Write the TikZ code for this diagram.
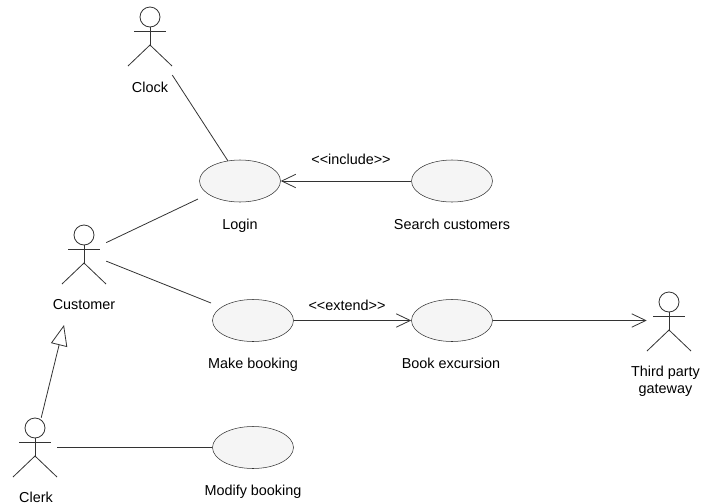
\documentclass[tikz,border=0pt]{standalone}
\usepackage{fontspec}
\setmainfont{Liberation Sans}
\usetikzlibrary{arrows.meta,shapes.geometric}
\definecolor{linegray}{HTML}{333333}
\definecolor{casegray}{HTML}{F5F5F5}
\tikzset{
    actorbox/.style={minimum width=33pt,minimum height=52.5pt,inner sep=0pt},
    usecase/.style={ellipse,draw=linegray,fill=casegray,minimum width=60.75pt,minimum height=31.5pt,inner sep=0pt},
    caption/.style={font=\fontsize{10.8}{12.75}\selectfont,text=black,inner sep=0pt,align=center},
    link/.style={draw=linegray,line width=0.6pt},
    opentip/.style={-{Straight Barb[length=10.5pt,width=10pt,line width=0.6pt]}},
    gentip/.style={-{Triangle[open,fill=white,length=15.5pt,width=12.5pt,line width=0.6pt]}},
    actorman/.pic={
        \draw[link] (0,-25) circle(10);
        \draw[link] (0,-15) -- (0,3);
        \draw[link] (-16,-11) -- (16,-11);
        \draw[link] (-22,24) -- (0,3) -- (22,24);
    }
}
\begin{document}
\begin{tikzpicture}[x=0.75pt,y=-0.75pt]
    \useasboundingbox (0,0) rectangle (701,504);
    \node[actorbox] (clock) at (150,42) {};
    \node[actorbox] (customer) at (84,260) {};
    \node[actorbox] (clerk) at (35,453) {};
    \node[actorbox] (gateway) at (669,327) {};
    \pic at (clock) {actorman};
    \pic at (customer) {actorman};
    \pic at (clerk) {actorman};
    \pic at (gateway) {actorman};
    \node[usecase] (login) at (240,181) {};
    \node[usecase] (search) at (452,181) {};
    \node[usecase] (make) at (253,320.5) {};
    \node[usecase] (excursion) at (452,320.5) {};
    \node[usecase] (modify) at (253,447.5) {};
    \node[caption] (clocklabel) at (150,87) {Clock};
    \node[caption] (customerlabel) at (84,305) {Customer};
    \node[caption] (clerklabel) at (36,497) {Clerk};
    \node[caption] (gatewaylabel) at (665.5,381) {Third party\\gateway};
    \node[caption] (loginlabel) at (240,225.5) {Login};
    \node[caption] (searchlabel) at (452,224.5) {Search customers};
    \node[caption] (makelabel) at (253,365) {Make booking};
    \node[caption] (excursionlabel) at (451,363) {Book excursion};
    \node[caption] (modifylabel) at (253,491.5) {Modify booking};
    \node[caption] (includelabel) at (351,159) {<{}<include>{}>};
    \node[caption] (extendlabel) at (347,305) {<{}<extend>{}>};
    \draw[link] (clock.-56) -- (login.121);
    \draw[link] (customer.38) -- ([shift={(-42,18)}]login.center);
    \draw[link] (customer.-3) -- ([shift={(-42,-17.5)}]make.center);
    \draw[link] (modify.west -| clerk.east) -- (modify.west);
    \draw[link,gentip] (clerk.80) -- ([shift={(-20,20)}]customerlabel.center);
    \draw[link,opentip] (search.west) -- (login.east);
    \draw[link,opentip] (make.east) -- (excursion.west);
    \draw[link,opentip] (excursion.east) -- (excursion.east -| gateway.west);
\end{tikzpicture}
\end{document}
